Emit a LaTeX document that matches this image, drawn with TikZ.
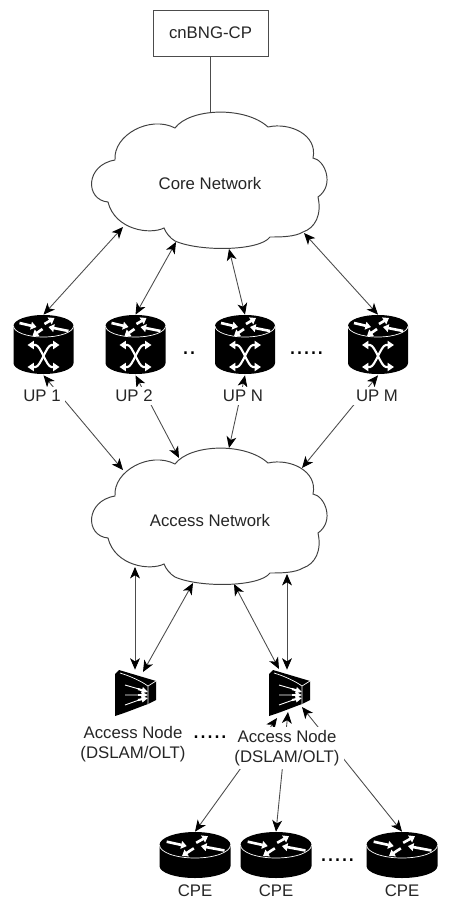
\documentclass[tikz,border=0pt]{standalone}
\usepackage{fontspec}
\setmainfont{Liberation Sans}
\usetikzlibrary{arrows.meta,backgrounds}

\tikzset{
  lbl/.style={font=\fontsize{9.55}{11.3}\selectfont,inner xsep=2.5pt,inner ysep=2pt,align=center,fill=white,text=black!85},
  dots/.style={font=\fontsize{14.3}{14.3}\selectfont,inner sep=0pt,anchor=base},
  spot/.style={inner sep=0pt,minimum width=#1},
  link/.style={{Stealth[length=6.5pt,width=5.6pt,inset=1.8pt,color=black]}-{Stealth[length=6.5pt,width=5.6pt,inset=1.8pt,color=black]},draw=black!70,line width=0.5pt},
  mark arrow/.style={white,line width=1.5pt,-{Triangle[length=3.2pt,width=4.4pt]}},
  cloudy/.pic={
    \draw[black!75,line width=0.55pt,fill=white]
      (-35,-56) .. controls (-20,-76) and (35,-78) .. (58,-57)
      .. controls (80,-62) and (108,-49) .. (103,-26)
      .. controls (115,-24) and (125,1) .. (108,13)
      .. controls (112,31) and (105,44) .. (93,48)
      .. controls (85,53) and (70,53) .. (60,53)
      .. controls (50,67) and (-10,68) .. (-35,57)
      .. controls (-40,54) and (-44,49) .. (-46,44)
      .. controls (-60,51) and (-95,46) .. (-102,18)
      .. controls (-125,16) and (-125,-19) .. (-95,-24)
      .. controls (-97,-49) and (-60,-69) .. (-35,-56) -- cycle;
  },
  toparrows/.pic={
    \draw[mark arrow] (-24,-3) -- (-7,1);
    \draw[mark arrow] (1,-2) -- (11,-8);
    \draw[mark arrow] (-1,3) -- (-11,10);
    \draw[mark arrow] (25,5) -- (5,1);
  },
  upicon/.pic={
    \fill[black] (-30,-19) arc (180:360:30 and 11) -- (30,18) arc (0:180:30 and 11) -- cycle;
    \draw[white,line width=0.4pt] (-30,-19) arc (180:0:30 and 11);
    \pic at (0,-19) {toparrows};
    \foreach \s in {1,-1}
      \draw[white,line width=1.2pt,{Triangle[length=3.6pt,width=4.6pt]}-{Triangle[length=3.6pt,width=4.6pt]}]
        (-16*\s,0) -- (-8*\s,0) .. controls (-3*\s,0) and (3*\s,22) .. (8*\s,22) -- (16*\s,22);
  },
  cpeicon/.pic={
    \fill[black] (-35.5,-10) arc (180:360:35.5 and 13) -- (35.5,11) arc (0:180:35.5 and 12) -- cycle;
    \draw[white,line width=0.4pt] (-35.5,-10) arc (180:0:35.5 and 13);
    \pic[xscale=1.18,yscale=1.1] at (0,-10) {toparrows};
  },
  anicon/.pic={
    \fill[black] (-20,-19) -- (-16,-23) -- (21,-12) -- (21,7) -- (13,11) .. controls (2,15) and (-10,20) .. (-20,23) -- cycle;
    \draw[white,line width=0.4pt] (-15,-20) .. controls (-5,-17) and (6,-12) .. (13,-7) -- (21,-12) (13,-7) -- (13,11);
    \draw[white,line width=0.5pt] (-10,-8) -- (4,-4) (-10,2) -- (4,2) (-10,12) -- (4,7);
    \foreach \y/\z in {-4/-1,2/2,7/5}
      \draw[white,line width=1.2pt,-{Triangle[length=3.6pt,width=3.4pt]}] (3,\y) -- (13,\z);
  }
}

\begin{document}
\begin{tikzpicture}[x=0.02cm,y=-0.02cm]
  \useasboundingbox (0,0) rectangle (453,899);

  % control plane and the two clouds
  \node[draw=black!70,line width=0.5pt,minimum width=2.3cm,minimum height=0.92cm,inner sep=0pt,
    font=\fontsize{9.55}{11.3}\selectfont,text=black!85] (cp) at (210.5,33) {cnBNG-CP};
  \pic at (210,184) {cloudy};
  \pic at (210,520) {cloudy};
  \node[lbl,fill=none] (core) at (210,183) {Core Network};
  \node[lbl,fill=none] (access) at (210,520) {Access Network};

  % user plane routers
  \foreach \name/\x/\lx/\ltext in {up1/43.5/42/UP 1,up2/135.5/134/UP 2,upn/245/243/UP N,upm/378/377/UP M} {
    \pic at (\x,345) {upicon};
    \node[spot=1.2cm,minimum height=1.2cm] (\name) at (\x,345) {};
    \node[lbl] (\name lbl) at (\lx,396) {\ltext};
  }
  \node[dots] (dotsa) at (189,354) {..};
  \node[dots] (dotsb) at (306.5,354) {.....};

  % access nodes
  \foreach \name/\x in {ana/135,anb/289} {
    \pic at (\x,693) {anicon};
    \node[spot=0.84cm,minimum height=0.92cm] (\name) at (\x,693) {};
  }
  \node[lbl] (ana lbl) at (133,744) {Access Node\\(DSLAM/OLT)};
  \node[lbl] (anb lbl) at (287,748) {Access Node\\(DSLAM/OLT)};
  \node[dots] (dotsc) at (210,738) {.....};

  % subscriber routers
  \foreach \name/\x in {cpea/195,cpeb/276,cpec/402} {
    \pic at (\x,855) {cpeicon};
    \node[spot=1.42cm,minimum height=0.92cm] (\name) at (\x,855) {};
    \node[lbl] (\name lbl) at (\x,891) {CPE};
  }
  \node[dots] (dotsd) at (337.5,861) {.....};

  % ports on the cloud edges and on the access node
  \coordinate (core a) at (123,227);
  \coordinate (core b) at (176,242);
  \coordinate (core c) at (229,249);
  \coordinate (core d) at (304,233);
  \coordinate (access a) at (123,470);
  \coordinate (access b) at (179,458);
  \coordinate (access c) at (229,448);
  \coordinate (access d) at (302,468);
  \coordinate (access e) at (135,567);
  \coordinate (access f) at (193,583);
  \coordinate (access g) at (234,584);
  \coordinate (access h) at (287,574);
  \coordinate (anb a) at (277,718);
  \coordinate (anb b) at (288,712);
  \coordinate (anb c) at (302,707);
  \coordinate (ana b) at (143,672);
  \coordinate (anb d) at (279,669);

  \begin{scope}[on background layer]
    \draw[draw=black!70,line width=0.5pt] (cp.south) -- (210.5,112);
    \draw[link] (core a) -- (up1.north);
    \draw[link] (core b) -- (up2.north);
    \draw[link] (core c) -- (upn.north);
    \draw[link] (core d) -- (upm.north);
    \draw[link] (up1.south) -- (access a);
    \draw[link] (up2.south) -- (access b);
    \draw[link] (upn.south) -- (access c);
    \draw[link] (upm.south) -- (access d);
    \draw[link] (access e) -- (ana.north);
    \draw[link] (access f) -- (ana b);
    \draw[link] (access g) -- (anb d);
    \draw[link] (access h) -- (anb.north -| access h);
    \draw[link] (anb a) -- (cpea.north);
    \draw[link] (anb b) -- (cpeb.north);
    \draw[link] (anb c) -- (cpec.north);
  \end{scope}
\end{tikzpicture}
\end{document}
